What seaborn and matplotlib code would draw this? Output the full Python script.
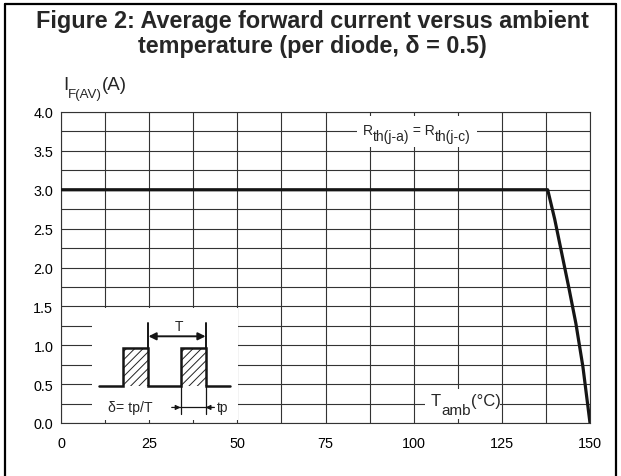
import matplotlib
matplotlib.use("Agg")
import matplotlib.pyplot as plt
import seaborn as sns
import pandas as pd
from matplotlib.patches import Rectangle
from matplotlib.lines import Line2D

# ---------------- data ----------------
temp_c = [0, 138, 140, 142, 144, 146, 148, 150]
current_a = [3.0, 3.0, 2.62, 2.18, 1.74, 1.28, 0.72, 0.0]

x_ticks = [0, 25, 50, 75, 100, 125, 150]
x_minor = [12.5, 37.5, 62.5, 87.5, 112.5, 137.5]
y_ticks = [0.0, 0.5, 1.0, 1.5, 2.0, 2.5, 3.0, 3.5, 4.0]
y_minor = [0.25, 0.75, 1.25, 1.75, 2.25, 2.75, 3.25, 3.75]
y_tick_labels = ["0.0", "0.5", "1.0", "1.5", "2.0", "2.5", "3.0", "3.5", "4.0"]

title_line1 = "Figure 2: Average forward current versus ambient"
title_line2 = "temperature (per diode, \u03b4 = 0.5)"

# inset schematic (pulse train) geometry
pulse_starts = [17.7, 33.9]
pulse_width = 7.1
pulse_low = 0.47
pulse_high = 0.965
train_x = [10.9, 17.7, 17.7, 24.8, 24.8, 33.9, 33.9, 41.0, 41.0, 47.9]
train_y = [0.47, 0.47, 0.965, 0.965, 0.47, 0.47, 0.965, 0.965, 0.47, 0.47]

df = pd.DataFrame({"T": temp_c, "I": current_a})

sns.set_style("white")
plt.rcParams["font.family"] = ["Liberation Sans", "DejaVu Sans"]
plt.rcParams["hatch.linewidth"] = 0.7

W, H = 621, 477
fig = plt.figure(figsize=(W / 100, H / 100), dpi=100)
ax = fig.add_axes([61 / W, 1 - 424 / H, (590 - 61) / W, (424 - 113) / H])

grid_c = "#333333"
ink = "#151515"
sns.lineplot(data=df, x="T", y="I", ax=ax, color=ink, linewidth=2.3,
             zorder=6, sort=False)

ax.set_xlim(0, 150)
ax.set_ylim(0, 4)
ax.set_xticks(x_ticks)
ax.set_xticks(x_minor, minor=True)
ax.set_yticks(y_ticks)
ax.set_yticks(y_minor, minor=True)
ax.set_yticklabels(y_tick_labels)
ax.set_axisbelow(True)
ax.grid(which="both", color=grid_c, linewidth=0.8)
ax.tick_params(which="both", length=0, labelsize=10.4, colors="black")
ax.tick_params(axis="y", pad=5.5)
ax.tick_params(axis="x", pad=9.5)
ax.set_xlabel("")
ax.set_ylabel("")
for s in ax.spines.values():
    s.set_color(grid_c)
    s.set_linewidth(0.8)


def compose(x, y, transform, pieces, zorder=7):
    """Draw text pieces side by side; each piece = (text, size, dy_points)."""
    txt, size, _ = pieces[0]
    prev = ax.text(x, y, txt, fontsize=size, transform=transform,
                   ha="left", va="baseline", zorder=zorder, clip_on=False)
    for txt, size, dy in pieces[1:]:
        prev = ax.annotate(txt, xy=(1, 0), xycoords=prev, xytext=(0, dy),
                           textcoords="offset points", fontsize=size,
                           ha="left", va="bottom", zorder=zorder,
                           annotation_clip=False)
    return prev


# white inset panel
ax.add_patch(Rectangle((8.8, 0.04), 50.3 - 8.8, 1.48 - 0.04, facecolor="white",
                       edgecolor="none", zorder=1))
# hatched pulses
for xs in pulse_starts:
    ax.add_patch(Rectangle((xs, pulse_low), pulse_width, pulse_high - pulse_low,
                           facecolor="none", edgecolor="#222222", hatch="////",
                           linewidth=0, zorder=2))
ax.plot(train_x, train_y, color=ink, lw=1.8, zorder=3, solid_joinstyle="miter")
# period markers
for xv in [24.8, 41.0]:
    ax.plot([xv, xv], [0.965, 1.28], color=ink, lw=1.4, zorder=3)
ax.annotate("", xy=(41.0, 1.115), xytext=(24.8, 1.115),
            arrowprops=dict(arrowstyle="<|-|>", color=ink, lw=1.4,
                            mutation_scale=11, shrinkA=0, shrinkB=0), zorder=3)
ax.text(33.4, 1.19, "T", fontsize=10, ha="center", va="baseline", zorder=4)
# tp dimension
for xv in [33.9, 41.0]:
    ax.plot([xv, xv], [0.47, 0.12], color=ink, lw=0.9, zorder=3)
ax.plot([32.3, 42.7], [0.2, 0.2], color=ink, lw=0.9, zorder=3)
ax.annotate("", xy=(33.9, 0.2), xytext=(31.4, 0.2),
            arrowprops=dict(arrowstyle="-|>", color=ink, lw=0.9,
                            mutation_scale=7, shrinkA=0, shrinkB=0), zorder=3)
ax.annotate("", xy=(41.0, 0.2), xytext=(43.5, 0.2),
            arrowprops=dict(arrowstyle="-|>", color=ink, lw=0.9,
                            mutation_scale=7, shrinkA=0, shrinkB=0), zorder=3)
ax.text(19.6, 0.16, "\u03b4= tp/T", fontsize=10.2, ha="center", va="baseline", zorder=4)
ax.text(45.7, 0.16, "tp", fontsize=10, ha="center", va="baseline", zorder=4)

# Rth annotation
ax.add_patch(Rectangle((84, 3.55), 34, 0.40, facecolor="white", edgecolor="none", zorder=1))
compose(85.6, 3.717, ax.transData,
        [("R", 10, 0), ("th(j\u2010a)", 10, -4.6), (" = R", 10, 4.6),
         ("th(j\u2010c)", 10, -4.6)])

# Tamb annotation
ax.add_patch(Rectangle((103.2, 0.05), 124.5 - 103.2, 0.39, facecolor="white",
                       edgecolor="none", zorder=1))
compose(104.9, 0.2315, ax.transData,
        [("T", 12, 0), ("amb", 11, -6.3), ("(\u00b0C)", 12, 6.3)])

# y label
compose(63 / W, 1 - 90 / H, fig.transFigure,
        [("I", 13.5, 0), ("F(AV)", 9.6, -5.0), ("(A)", 13.5, 5.0)])

# title
fig.text(312 / W, 1 - 28 / H, title_line1, fontsize=16.8, fontweight="bold",
         ha="center", va="baseline")
fig.text(312 / W, 1 - 53 / H, title_line2, fontsize=16.8, fontweight="bold",
         ha="center", va="baseline")

# outer frame (top, left, right)
bx0, bx1, by = 5 / W, 616 / W, 1 - 5 / H
fig.add_artist(Line2D([bx0, bx1], [by, by], transform=fig.transFigure, color="black", lw=1.6))
fig.add_artist(Line2D([bx0, bx0], [0, by], transform=fig.transFigure, color="black", lw=1.6))
fig.add_artist(Line2D([bx1, bx1], [0, by], transform=fig.transFigure, color="black", lw=1.6))

fig.savefig("out.png", dpi=100, facecolor="white")
